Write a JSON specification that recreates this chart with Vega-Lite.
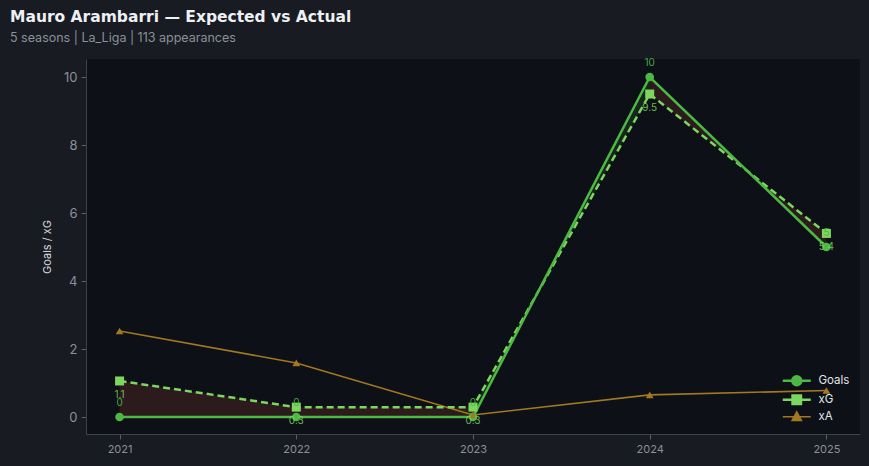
{
  "$schema": "https://vega.github.io/schema/vega-lite/v6.json",
  "autosize": "none",
  "width": 774,
  "height": 375,
  "padding": {"left": 86, "top": 59, "right": 9, "bottom": 32},
  "background": "#181b22",
  "title": {
    "text": "Mauro Arambarri — Expected vs Actual",
    "subtitle": "5 seasons | La_Liga | 113 appearances",
    "anchor": "start",
    "frame": "group",
    "dx": -76,
    "offset": 14,
    "font": "DejaVu Sans",
    "fontSize": 15.5,
    "fontWeight": "bold",
    "color": "#eef0f3",
    "subtitleFont": "Inter",
    "subtitleFontSize": 12.5,
    "subtitleColor": "#8b9099",
    "subtitlePadding": 6
  },
  "config": {
    "view": {"fill": "#0d1017", "stroke": null},
    "font": "Inter",
    "axis": {
      "domainColor": "#3d424b",
      "tickColor": "#5a5f68",
      "labelColor": "#8b9099",
      "titleColor": "#d5d8dd",
      "grid": false,
      "labelFont": "Inter",
      "titleFont": "Inter"
    }
  },
  "datasets": {
    "main": [
      {"year": 2021, "series": "Goals", "value": 0},
      {"year": 2022, "series": "Goals", "value": 0},
      {"year": 2023, "series": "Goals", "value": 0},
      {"year": 2024, "series": "Goals", "value": 10},
      {"year": 2025, "series": "Goals", "value": 5},
      {"year": 2021, "series": "xG", "value": 1.06},
      {"year": 2022, "series": "xG", "value": 0.29},
      {"year": 2023, "series": "xG", "value": 0.29},
      {"year": 2024, "series": "xG", "value": 9.5},
      {"year": 2025, "series": "xG", "value": 5.4},
      {"year": 2021, "series": "xA", "value": 2.53},
      {"year": 2022, "series": "xA", "value": 1.59},
      {"year": 2023, "series": "xA", "value": 0.06},
      {"year": 2024, "series": "xA", "value": 0.65},
      {"year": 2025, "series": "xA", "value": 0.78}
    ],
    "fill": [
      {"year": 2021, "seg": "a", "kind": "under", "goals": 0, "xg": 1.06},
      {"year": 2022, "seg": "a", "kind": "under", "goals": 0, "xg": 0.29},
      {"year": 2023, "seg": "a", "kind": "under", "goals": 0, "xg": 0.29},
      {"year": 2023, "seg": "b", "kind": "over", "goals": 0, "xg": 0.29},
      {"year": 2024, "seg": "b", "kind": "over", "goals": 10, "xg": 9.5},
      {"year": 2024, "seg": "c", "kind": "under", "goals": 10, "xg": 9.5},
      {"year": 2025, "seg": "c", "kind": "under", "goals": 5, "xg": 5.4}
    ]
  },
  "layer": [
    {
      "data": {"name": "fill"},
      "mark": {"type": "area", "opacity": 1},
      "encoding": {
        "x": {"field": "year", "type": "quantitative",
          "scale": {"domain": [2020.81, 2025.19], "nice": false, "zero": false},
          "axis": {"values": [2021, 2022, 2023, 2024, 2025], "format": "d", "title": null,
            "labelFontSize": 11, "tickSize": 5, "labelPadding": 4}},
        "y": {"field": "goals", "type": "quantitative",
          "scale": {"domain": [-0.5, 10.53], "nice": false, "zero": false},
          "axis": {"values": [0, 2, 4, 6, 8, 10], "title": "Goals / xG", "titleFontSize": 11,
            "titleFontWeight": "normal", "labelFontSize": 13, "tickSize": 5, "labelPadding": 4, "titlePadding": 11}},
        "y2": {"field": "xg"},
        "detail": {"field": "seg"},
        "fill": {"field": "kind", "type": "nominal", "legend": null,
          "scale": {"domain": ["under", "over"], "range": ["#2c1a1d", "#16261b"]}}
      }
    },
    {
      "data": {"name": "main"},
      "transform": [{"filter": "datum.series == 'xA'"}],
      "mark": {"type": "line", "strokeWidth": 1.6},
      "encoding": {
        "x": {"field": "year", "type": "quantitative"},
        "y": {"field": "value", "type": "quantitative"},
        "color": {"field": "series", "type": "nominal"}
      }
    },
    {
      "data": {"name": "main"},
      "transform": [{"filter": "datum.series == 'xG'"}],
      "mark": {"type": "line", "strokeWidth": 2.5, "strokeDash": [7, 4]},
      "encoding": {
        "x": {"field": "year", "type": "quantitative"},
        "y": {"field": "value", "type": "quantitative"},
        "color": {"field": "series", "type": "nominal"}
      }
    },
    {
      "data": {"name": "main"},
      "transform": [{"filter": "datum.series == 'Goals'"}],
      "mark": {"type": "line", "strokeWidth": 2.5},
      "encoding": {
        "x": {"field": "year", "type": "quantitative"},
        "y": {"field": "value", "type": "quantitative"},
        "color": {"field": "series", "type": "nominal"}
      }
    },
    {
      "data": {"name": "main"},
      "transform": [{"filter": "datum.series == 'Goals'"}],
      "mark": {"type": "point", "filled": true, "opacity": 1, "size": 75, "shape": "circle"},
      "encoding": {
        "x": {"field": "year", "type": "quantitative"},
        "y": {"field": "value", "type": "quantitative"},
        "color": {"field": "series", "type": "nominal"}
      }
    },
    {
      "data": {"name": "main"},
      "transform": [{"filter": "datum.series == 'xG'"}],
      "mark": {"type": "point", "filled": true, "opacity": 1, "size": 81, "shape": "square"},
      "encoding": {
        "x": {"field": "year", "type": "quantitative"},
        "y": {"field": "value", "type": "quantitative"},
        "color": {"field": "series", "type": "nominal"}
      }
    },
    {
      "data": {"name": "main"},
      "transform": [{"filter": "datum.series == 'xA'"}],
      "mark": {"type": "point", "filled": true, "opacity": 1, "size": 60, "shape": "triangle-up"},
      "encoding": {
        "x": {"field": "year", "type": "quantitative"},
        "y": {"field": "value", "type": "quantitative"},
        "color": {"field": "series", "type": "nominal"}
      }
    },
    {
      "data": {"name": "main"},
      "transform": [{"filter": "datum.series == 'none'"}],
      "mark": {"type": "point", "filled": true, "opacity": 1, "size": 400},
      "encoding": {
        "x": {"field": "year", "type": "quantitative"},
        "y": {"field": "value", "type": "quantitative"},
        "color": {"field": "series", "type": "nominal",
          "scale": {"domain": ["Goals", "xG", "xA"], "range": ["#4cb944", "#7dd65e", "#a27820"]},
          "legend": {
            "title": null,
            "orient": "bottom-right",
            "offset": 10,
            "padding": 0,
            "symbolSize": 400,
            "labelColor": "#e3e5e8",
            "labelFontSize": 11.5,
            "labelOffset": 16,
            "rowPadding": -1,
            "symbolOpacity": 1,
            "encode": {
              "symbols": {
                "update": {
                  "size": {"value": 400},
                  "fill": {"signal": "scale('color', datum.value)"},
                  "stroke": {"signal": "scale('color', datum.value)"},
                  "strokeWidth": {"signal": "datum.value == 'xA' ? 1.5 : 2.5"},
                  "opacity": {"value": 1}
                }
              }
            }
          }},
        "shape": {"field": "series", "type": "nominal",
          "scale": {"domain": ["Goals", "xG", "xA"], "range": [
            "M-1.4,0H1.4M0.45,0A0.45,0.45,0,1,1,-0.45,0A0.45,0.45,0,1,1,0.45,0Z",
            "M-1.4,0H1.4M-0.42,-0.42H0.42V0.42H-0.42Z",
            "M-1.4,0H1.4M0,-0.5L0.47,0.38H-0.47Z"]}}
      }
    },
    {
      "data": {"name": "main"},
      "transform": [{"filter": "datum.series == 'Goals'"}],
      "mark": {"type": "text", "dy": -14, "fontSize": 10, "color": "#4cb944", "opacity": 0.9},
      "encoding": {
        "x": {"field": "year", "type": "quantitative"},
        "y": {"field": "value", "type": "quantitative"},
        "text": {"field": "value", "type": "quantitative", "format": ".1~f"}
      }
    },
    {
      "data": {"name": "main"},
      "transform": [{"filter": "datum.series == 'xG'"}],
      "mark": {"type": "text", "dy": 14, "fontSize": 10, "color": "#7dd65e", "opacity": 0.85},
      "encoding": {
        "x": {"field": "year", "type": "quantitative"},
        "y": {"field": "value", "type": "quantitative"},
        "text": {"field": "value", "type": "quantitative", "format": ".1~f"}
      }
    }
  ]
}
